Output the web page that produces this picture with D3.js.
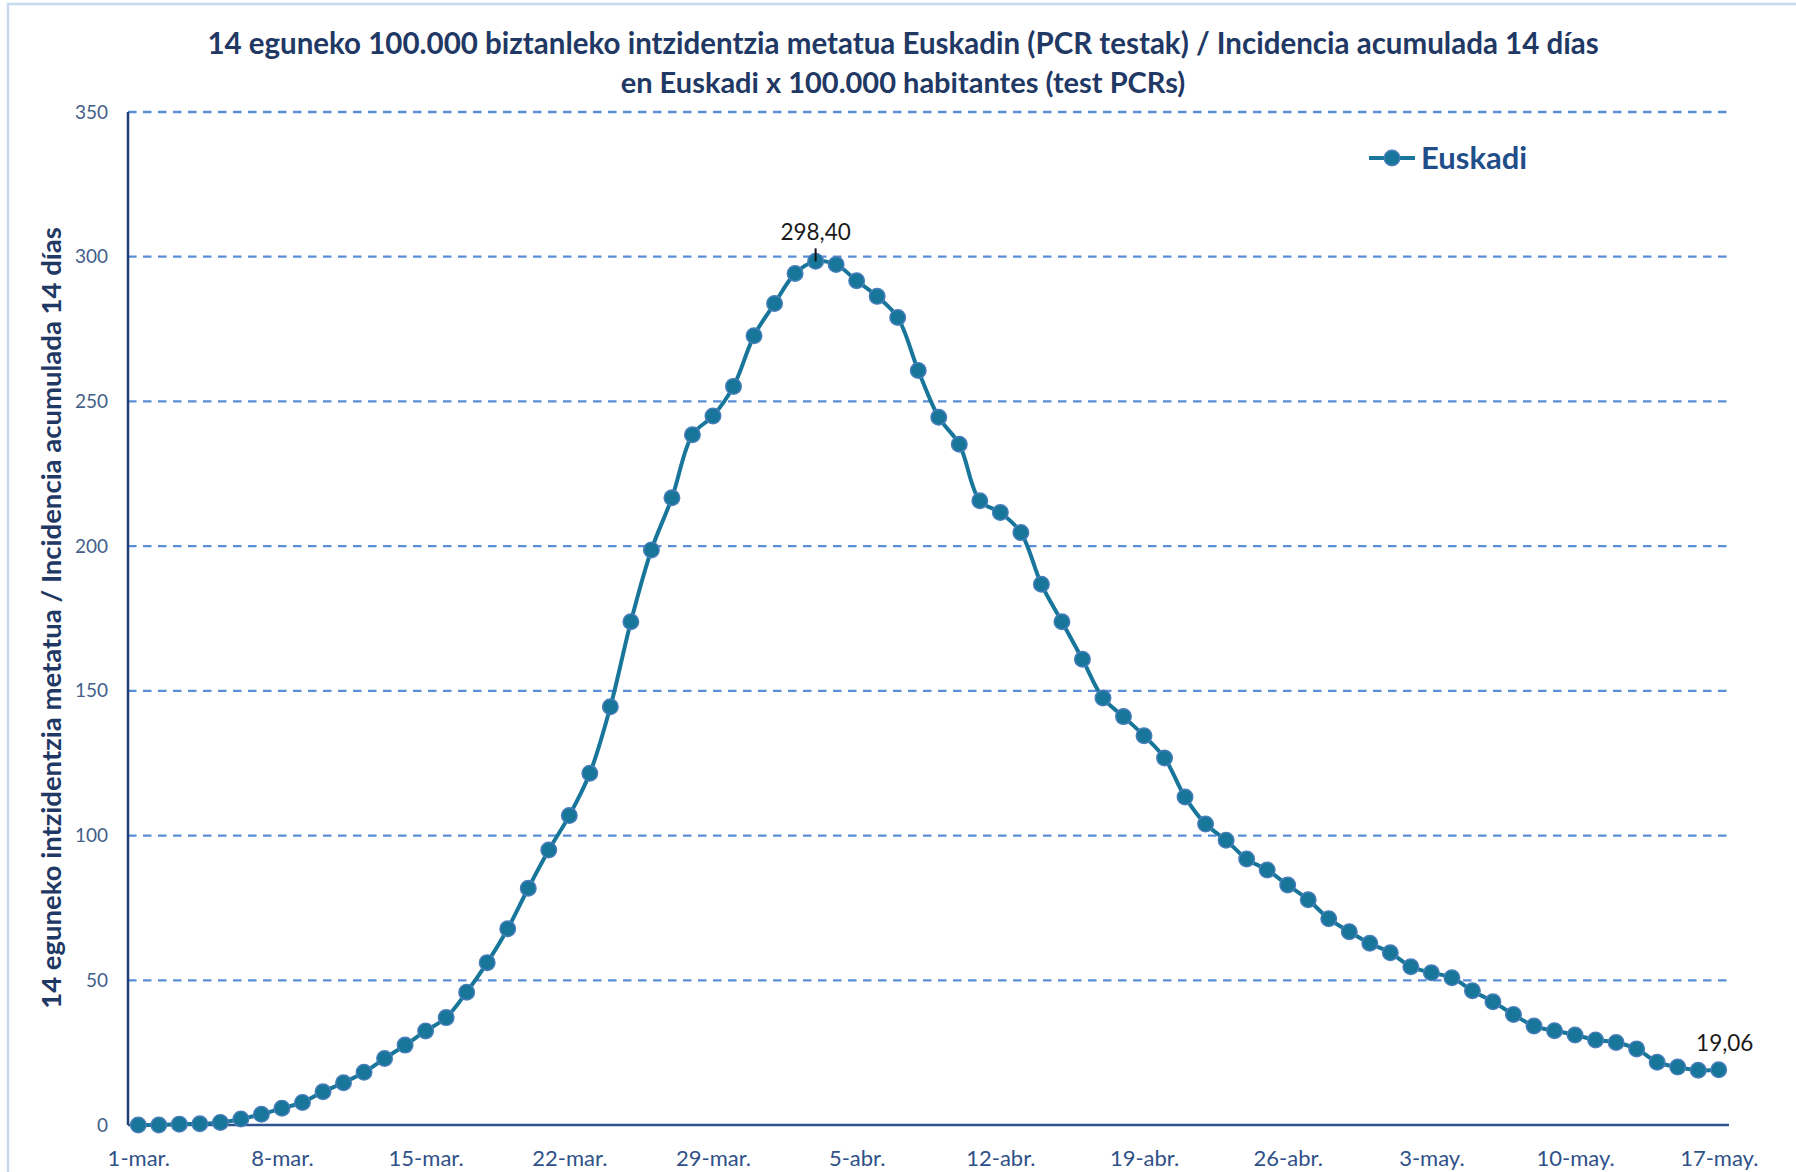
<!DOCTYPE html>
<html>
<head>
<meta charset="utf-8">
<script src="https://cdn.jsdelivr.net/npm/d3@7"></script>
<style>
  html, body { margin: 0; padding: 0; background: #fff; }
  svg { display: block; }
  svg text { font-family: Lato, "Open Sans", sans-serif; }
</style>
</head>
<body>
<svg id="chart"></svg>
<script>
// 14-day cumulative incidence per 100.000, Euskadi, 1-mar to 17-may
const startDay = new Date(2020, 2, 1);
const endDay = new Date(2020, 4, 18);
const incidence = [
  0, 0, 0.3, 0.4, 0.9, 2.1, 3.7, 5.8, 7.8, 11.5,
  14.6, 18.2, 23.0, 27.6, 32.5, 37.1, 45.9, 56.1, 67.8, 81.8,
  95.0, 106.9, 121.5, 144.5, 173.9, 198.7, 216.7, 238.5, 245.0, 255.2,
  272.7, 283.8, 294.2, 298.4, 297.3, 291.7, 286.3, 279.0, 260.7, 244.5,
  235.2, 215.7, 211.6, 204.7, 186.8, 173.9, 160.9, 147.5, 141.1, 134.5,
  126.8, 113.3, 104.0, 98.4, 91.9, 88.1, 82.9, 77.8, 71.3, 66.8,
  62.8, 59.5, 54.7, 52.6, 50.9, 46.4, 42.6, 38.2, 34.2, 32.6,
  31.1, 29.4, 28.5, 26.3, 21.7, 20.0, 18.9, 19.06
];
const xTickLabels = ["1-mar.", "8-mar.", "15-mar.", "22-mar.", "29-mar.", "5-abr.",
  "12-abr.", "19-abr.", "26-abr.", "3-may.", "10-may.", "17-may."];
const yTicks = [0, 50, 100, 150, 200, 250, 300, 350];
const labelledDays = [33, 77]; // peak and last value get a data label
const seriesName = "Euskadi";

const titleLines = [
  "14 eguneko 100.000 biztanleko intzidentzia metatua Euskadin (PCR testak) / Incidencia acumulada 14 días",
  "en Euskadi x 100.000 habitantes (test PCRs)"
];
const yTitle = "14 eguneko intzidentzia metatua / Incidencia acumulada 14 días";

const width = 1796, height = 1172;
const plot = { left: 128, right: 1729, top: 112, bottom: 1125 };

const lineColor = "#17769A";
const gridColor = "#5B8ED8";
const axisColor = "#1F3F74";
const titleColor = "#1F3864";
const fontFamily = "Lato, 'Open Sans', sans-serif";

const days = d3.timeDay.range(startDay, endDay);
const data = days.map((d, i) => ({ date: d, value: incidence[i] }));
const esFormat = d3.formatLocale({ decimal: ",", thousands: ".", grouping: [3], currency: ["", "€"] }).format(".2f");

const svg = d3.select("#chart").attr("width", width).attr("height", height);

// outer frame
svg.append("rect")
  .attr("x", 8).attr("y", 4)
  .attr("width", width + 20).attr("height", height + 20)
  .attr("fill", "none").attr("stroke", "#C6D9F1").attr("stroke-width", 2.5);

const x = d3.scalePoint()
  .domain(days)
  .range([plot.left, plot.right])
  .padding(0.5);

const y = d3.scaleLinear()
  .domain([0, 350])
  .range([plot.bottom, plot.top]);

// gridlines
svg.append("g")
  .selectAll("line")
  .data(yTicks.filter(t => t > 0))
  .join("line")
  .attr("x1", plot.left).attr("x2", plot.right)
  .attr("y1", d => y(d)).attr("y2", d => y(d))
  .attr("stroke", gridColor)
  .attr("stroke-width", 2.3)
  .attr("stroke-dasharray", "8.5,6.5");

// y axis
const yAxis = svg.append("g")
  .attr("transform", `translate(${plot.left},0)`)
  .call(d3.axisLeft(y).tickValues(yTicks).tickSize(0).tickPadding(20));
yAxis.attr("font-family", fontFamily);
yAxis.select(".domain").remove();
yAxis.selectAll("text")
  .attr("fill", "#44608A")
  .style("font-size", "19px");

// x axis
const tickDays = days.filter((d, i) => i % 7 === 0);
const xAxis = svg.append("g")
  .attr("transform", `translate(0,${plot.bottom})`)
  .call(d3.axisBottom(x).tickValues(tickDays).tickSize(0).tickPadding(25)
    .tickFormat((d, i) => xTickLabels[i]));
xAxis.attr("font-family", fontFamily);
xAxis.select(".domain").remove();
xAxis.selectAll("text")
  .attr("fill", "#2F5188")
  .style("font-size", "22px");

// axis lines
svg.append("line")
  .attr("x1", plot.left).attr("x2", plot.left)
  .attr("y1", plot.top).attr("y2", plot.bottom)
  .attr("stroke", axisColor).attr("stroke-width", 2.5);
svg.append("line")
  .attr("x1", plot.left).attr("x2", plot.right)
  .attr("y1", plot.bottom).attr("y2", plot.bottom)
  .attr("stroke", "#2E5490").attr("stroke-width", 2.5);

// series line
const line = d3.line()
  .x(d => x(d.date))
  .y(d => y(d.value))
  .curve(d3.curveCatmullRom.alpha(0.5));

svg.append("path")
  .datum(data)
  .attr("d", line)
  .attr("fill", "none")
  .attr("stroke", lineColor)
  .attr("stroke-width", 4);

svg.append("g")
  .selectAll("circle")
  .data(data)
  .join("circle")
  .attr("cx", d => x(d.date))
  .attr("cy", d => y(d.value))
  .attr("r", 7.8)
  .attr("fill", lineColor)
  .attr("stroke", "#4A7EBB")
  .attr("stroke-width", 1.4);

// data labels
const peak = data[labelledDays[0]];
svg.append("line")
  .attr("x1", x(peak.date)).attr("x2", x(peak.date))
  .attr("y1", y(peak.value) - 13).attr("y2", y(peak.value))
  .attr("stroke", "#111").attr("stroke-width", 2);

svg.append("g")
  .selectAll("text")
  .data(labelledDays.map(i => data[i]))
  .join("text")
  .attr("x", (d, i) => x(d.date) + (i === 1 ? 6 : 0))
  .attr("y", (d, i) => i === 0 ? y(d.value) - 21 : y(d.value) - 19)
  .attr("text-anchor", "middle")
  .attr("fill", "#1a1a1a")
  .style("font-size", "22.5px")
  .text(d => esFormat(d.value));

// title
svg.append("g")
  .selectAll("text")
  .data(titleLines)
  .join("text")
  .attr("x", 903)
  .attr("y", (d, i) => 54 + i * 39)
  .attr("text-anchor", "middle")
  .attr("fill", titleColor)
  .style("font-size", (d, i) => i === 0 ? "29.5px" : "29px")
  .style("font-weight", "bold")
  .text(d => d);

// y axis title
svg.append("text")
  .attr("transform", "translate(61,618) rotate(-90)")
  .attr("text-anchor", "middle")
  .attr("fill", titleColor)
  .style("font-size", "27.5px")
  .style("font-weight", "bold")
  .text(yTitle);

// legend
const legend = svg.append("g").attr("transform", "translate(1369,158)");
legend.append("line")
  .attr("x1", 0).attr("x2", 46)
  .attr("stroke", lineColor).attr("stroke-width", 4);
legend.append("circle")
  .attr("cx", 23).attr("r", 7.8)
  .attr("fill", lineColor).attr("stroke", "#4A7EBB").attr("stroke-width", 1.4);
legend.append("text")
  .attr("x", 52).attr("y", 11)
  .attr("fill", "#1F4E88")
  .style("font-size", "31px")
  .style("font-weight", "bold")
  .text(seriesName);
</script>
</body>
</html>
